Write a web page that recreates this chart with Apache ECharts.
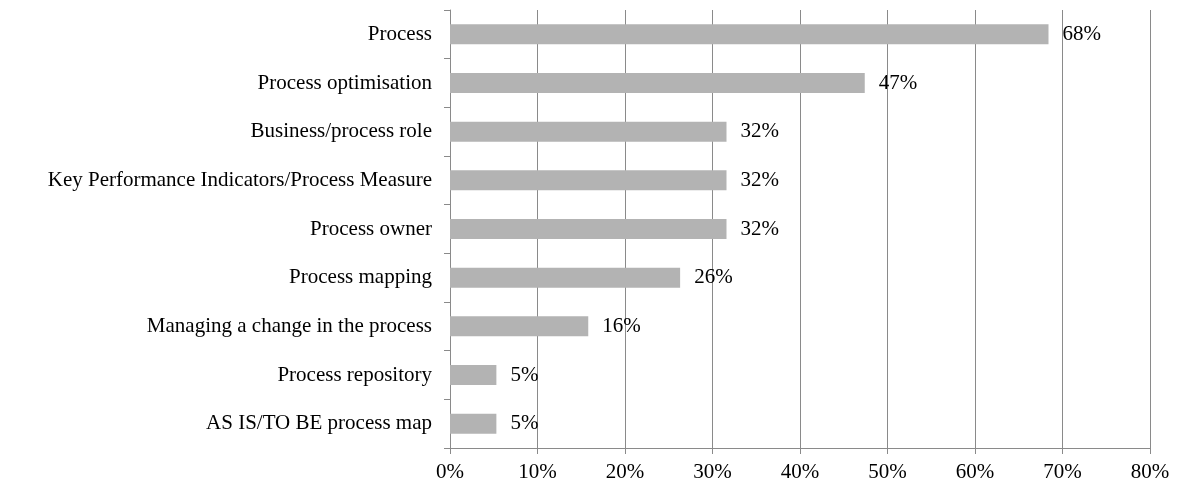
<!DOCTYPE html>
<html>
<head>
<meta charset="utf-8">
<script src="https://cdn.jsdelivr.net/npm/echarts@6/dist/echarts.min.js"></script>
<style>
  html, body { margin: 0; padding: 0; background: #fff; }
  #chart { width: 1179px; height: 486px; }
</style>
</head>
<body>
<div id="chart"></div>
<script>
// Topics, top to bottom
const categories = [
  'Process',
  'Process optimisation',
  'Business/process role',
  'Key Performance Indicators/Process Measure',
  'Process owner',
  'Process mapping',
  'Managing a change in the process',
  'Process repository',
  'AS IS/TO BE process map'
];
// Share of respondents, in percent
const shares = [68.4, 47.4, 31.6, 31.6, 31.6, 26.3, 15.8, 5.3, 5.3];
// Value axis ticks
const axisMin = 0;
const axisMax = 80;
const axisStep = 10;

const serif = "'Liberation Serif', 'Times New Roman', serif";
const lineGray = '#8a8a8a';

const chart = echarts.init(document.getElementById('chart'));
chart.setOption({
  animation: false,
  grid: { left: 450, right: 29, top: 10, bottom: 38, containLabel: false },
  xAxis: {
    type: 'value',
    min: axisMin,
    max: axisMax,
    interval: axisStep,
    axisLine: { show: true, lineStyle: { color: lineGray, width: 1 } },
    axisTick: { show: true, length: 6, lineStyle: { color: lineGray } },
    splitLine: { show: true, lineStyle: { color: lineGray, width: 1 } },
    axisLabel: {
      formatter: '{value}%',
      color: '#000',
      fontFamily: serif,
      fontSize: 21,
      margin: 14
    }
  },
  yAxis: {
    type: 'category',
    data: categories,
    inverse: true,
    axisLine: { show: true, lineStyle: { color: lineGray, width: 1 } },
    axisTick: { show: true, length: 6, lineStyle: { color: lineGray } },
    axisLabel: {
      color: '#000',
      fontFamily: serif,
      fontSize: 21,
      margin: 18
    }
  },
  series: [{
    type: 'bar',
    data: shares,
    barWidth: 20,
    itemStyle: { color: '#b3b3b3' },
    label: {
      show: true,
      position: 'right',
      distance: 14,
      color: '#000',
      fontFamily: serif,
      fontSize: 21,
      formatter: p => Math.round(p.value) + '%'
    }
  }]
});
</script>
</body>
</html>
